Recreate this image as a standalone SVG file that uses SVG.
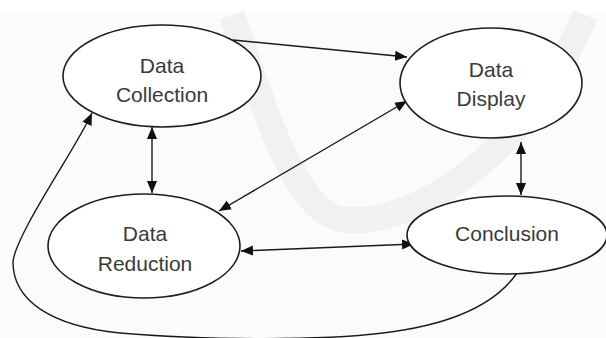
<svg xmlns="http://www.w3.org/2000/svg" width="606" height="338" viewBox="0 0 606 338">
<defs>
<style>
.node ellipse{fill:#ffffff;stroke:#1e1e1e;stroke-width:1.6}
.node text{font-family:"Liberation Sans",Arial,sans-serif;font-size:21px;fill:#3a3a3a;text-anchor:middle}
.conn path,.conn line{fill:none;stroke:#1a1a1a;stroke-width:1.4}
.wm{fill:none;stroke:#f1f1f1;stroke-width:26;stroke-linecap:butt}
</style>
<marker id="ah" viewBox="0 0 10 10" refX="10" refY="5" markerWidth="12" markerHeight="12" markerUnits="userSpaceOnUse" orient="auto-start-reverse">
<path d="M0,0.8 L10,5 L0,9.2 Z" fill="#111111"/>
</marker>
</defs>
<rect x="0" y="0" width="606" height="338" fill="#ffffff"/>
<rect x="0" y="13" width="606" height="325" fill="#fbfbfb"/>
<path class="wm" d="M232,15 C265,110 295,215 345,220 C420,225 530,150 585,15"/>
<g class="conn">
<line x1="233" y1="40" x2="407" y2="57" marker-end="url(#ah)"/>
<line x1="152" y1="127" x2="152" y2="193" marker-start="url(#ah)" marker-end="url(#ah)"/>
<line x1="219" y1="211" x2="407" y2="101" marker-start="url(#ah)" marker-end="url(#ah)"/>
<line x1="521" y1="142" x2="521" y2="195" marker-start="url(#ah)" marker-end="url(#ah)"/>
<line x1="241" y1="251" x2="414" y2="244" marker-start="url(#ah)" marker-end="url(#ah)"/>
<path d="M517,273 C495,305 450,325 383,333 C320,341 200,340 120,333 C50,326 13,300 13,262 C15,235 75,150 92,113" marker-end="url(#ah)"/>
</g>
<g id="data-collection" class="node">
<ellipse cx="162" cy="76" rx="99" ry="51"/>
<text x="162" y="73">Data</text>
<text x="162" y="102">Collection</text>
</g>
<g id="data-display" class="node">
<ellipse cx="491" cy="83" rx="91" ry="55"/>
<text x="491" y="77">Data</text>
<text x="491" y="106">Display</text>
</g>
<g id="data-reduction" class="node">
<ellipse cx="144" cy="246" rx="96" ry="52"/>
<text x="145" y="241">Data</text>
<text x="145" y="271">Reduction</text>
</g>
<g id="conclusion" class="node">
<ellipse cx="507" cy="235" rx="100" ry="39"/>
<text x="507" y="241">Conclusion</text>
</g>
</svg>
